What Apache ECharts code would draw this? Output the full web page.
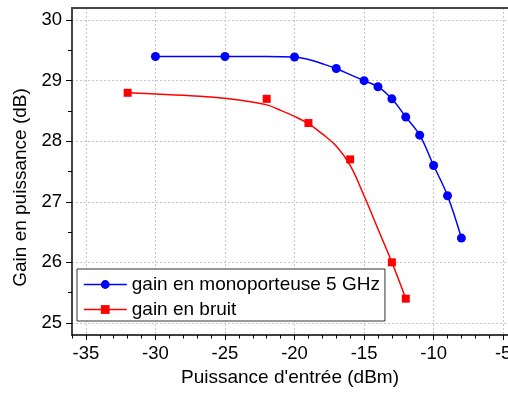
<!DOCTYPE html>
<html>
<head>
<meta charset="utf-8">
<script src="https://cdn.jsdelivr.net/npm/echarts@6/dist/echarts.min.js"></script>
<style>
html,body{margin:0;padding:0;background:#fff;}
#c{width:508px;height:401px;}
</style>
</head>
<body>
<div id="c"></div>
<script>
// Measured data
const blueName = 'gain en monoporteuse 5 GHz';
const blueX = [-30, -25, -20, -17, -15, -14, -13, -12, -11, -10, -9, -8];
const blueY = [29.4, 29.4, 29.39, 29.2, 29.0, 28.9, 28.7, 28.4, 28.1, 27.6, 27.1, 26.4];

const redName = 'gain en bruit';
const redX = [-32, -22, -19, -16, -13, -12];
const redY = [28.8, 28.7, 28.3, 27.7, 26.0, 25.4];

// Curves as drawn in the picture (read from it)
const blueCurveX = [-30, -25, -22, -20, -19, -18, -17, -16, -15, -14, -13, -12, -11, -10, -9, -8];
const blueCurveY = [29.4, 29.4, 29.4, 29.39, 29.35, 29.28, 29.2, 29.1, 29.0, 28.9, 28.7, 28.4, 28.1, 27.6, 27.1, 26.4];
const redFitX = [-32, -30, -28, -26, -24, -22, -21, -20, -19, -18, -17, -16, -15, -14, -13, -12];
const redFitY = [28.8, 28.78, 28.76, 28.73, 28.68, 28.6, 28.51, 28.41, 28.29, 28.12, 27.92, 27.6, 27.1, 26.55, 26.0, 25.4];

// Tick labels
const xMajor = [-35, -30, -25, -20, -15, -10, -5];
const xMinor = [-36,-35,-34,-33,-32,-31,-30,-29,-28,-27,-26,-25,-24,-23,-22,-21,-20,-19,-18,-17,-16,-15,-14,-13,-12,-11,-10,-9,-8,-7,-6,-5];
const yMajor = [25, 26, 27, 28, 29, 30];
const yMinor = [25, 25.5, 26, 26.5, 27, 27.5, 28, 28.5, 29, 29.5, 30];

const xTitle = "Puissance d'entrée (dBm)";
const yTitle = 'Gain en puissance (dB)';

const zip = (a, b) => a.map((v, i) => [v, b[i]]);

const FONT = 'Liberation Sans, Arial, sans-serif';
const XMIN = -36, XMAX = -4.65, YMIN = 24.8, YMAX = 30.2;
const gridLine = { show: true, lineStyle: { color: '#c8c8c8', type: [2, 2], width: 1 } };

const chart = echarts.init(document.getElementById('c'), null, { renderer: 'canvas' });
chart.setOption({
  animation: false,
  backgroundColor: '#fff',
  textStyle: { fontFamily: FONT },
  grid: { left: 72, right: 0, top: 8, bottom: 66, containLabel: false, outerBoundsMode: 'none' },
  legend: {
    orient: 'vertical',
    left: 77, top: 269,
    padding: [6, 5, 2, 6],
    itemWidth: 43, itemHeight: 11, itemGap: 6,
    borderColor: '#333', borderWidth: 1,
    backgroundColor: '#fff',
    textStyle: { fontSize: 19, color: '#000', fontFamily: FONT },
    data: [
      { name: blueName, lineStyle: { opacity: 1, width: 1.5, color: '#0000ff' } },
      { name: redName, lineStyle: { opacity: 1, width: 1.5, color: '#ff0000' } }
    ]
  },
  xAxis: [
    {
      type: 'value', min: XMIN, max: XMAX, position: 'bottom',
      name: xTitle, nameLocation: 'middle', nameGap: 32,
      nameTextStyle: { fontSize: 19, color: '#000', fontFamily: FONT },
      axisLine: { show: true, lineStyle: { color: '#000', width: 1.5 } },
      axisTick: { show: true, customValues: xMajor, length: 5, lineStyle: { color: '#000', width: 1 } },
      axisLabel: { customValues: xMajor, fontSize: 18.5, color: '#000', margin: 9, fontFamily: FONT },
      splitLine: gridLine
    },
    {
      type: 'value', min: XMIN, max: XMAX, position: 'bottom',
      axisLine: { show: false },
      axisTick: { show: true, customValues: xMinor, length: 3.5, lineStyle: { color: '#000', width: 1 } },
      axisLabel: { show: false },
      splitLine: { show: false }
    },
    {
      type: 'value', min: XMIN, max: XMAX, position: 'top',
      axisLine: { show: true, lineStyle: { color: '#444', width: 2 } },
      axisTick: { show: false },
      axisLabel: { show: false },
      splitLine: { show: false }
    }
  ],
  yAxis: [
    {
      type: 'value', min: YMIN, max: YMAX, position: 'left',
      name: yTitle, nameLocation: 'middle', nameGap: 38,
      nameTextStyle: { fontSize: 19, color: '#000', fontFamily: FONT, padding: [0, 32, 0, 0] },
      axisLine: { show: true, lineStyle: { color: '#444', width: 2 } },
      axisTick: { show: true, customValues: yMajor, length: 6, lineStyle: { color: '#000', width: 1 } },
      axisLabel: { customValues: yMajor, fontSize: 18.5, color: '#000', margin: 10, fontFamily: FONT },
      splitLine: gridLine
    },
    {
      type: 'value', min: YMIN, max: YMAX, position: 'left',
      axisLine: { show: false },
      axisTick: { show: true, customValues: yMinor, length: 4, lineStyle: { color: '#000', width: 1 } },
      axisLabel: { show: false },
      splitLine: { show: false }
    }
  ],
  series: [
    {
      name: blueName, type: 'line', xAxisIndex: 0, yAxisIndex: 0,
      data: zip(blueX, blueY),
      symbol: 'circle', symbolSize: 9,
      itemStyle: { color: '#0000ff' },
      lineStyle: { color: '#0000ff', width: 1.5, opacity: 0 },
      z: 3
    },
    {
      name: 'blueCurve', type: 'line', xAxisIndex: 0, yAxisIndex: 0,
      data: zip(blueCurveX, blueCurveY),
      smooth: 0.4,
      symbol: 'none',
      lineStyle: { color: '#0000ff', width: 1.5 },
      silent: true,
      z: 2
    },
    {
      name: redName, type: 'line', xAxisIndex: 0, yAxisIndex: 0,
      data: zip(redX, redY),
      symbol: 'rect', symbolSize: 8,
      itemStyle: { color: '#ff0000' },
      lineStyle: { color: '#ff0000', width: 1.5, opacity: 0 },
      z: 3
    },
    {
      name: 'redFit', type: 'line', xAxisIndex: 0, yAxisIndex: 0,
      data: zip(redFitX, redFitY),
      smooth: 0.4,
      symbol: 'none',
      lineStyle: { color: '#ff0000', width: 1.5 },
      silent: true,
      z: 2
    }
  ]
});
</script>
</body>
</html>
